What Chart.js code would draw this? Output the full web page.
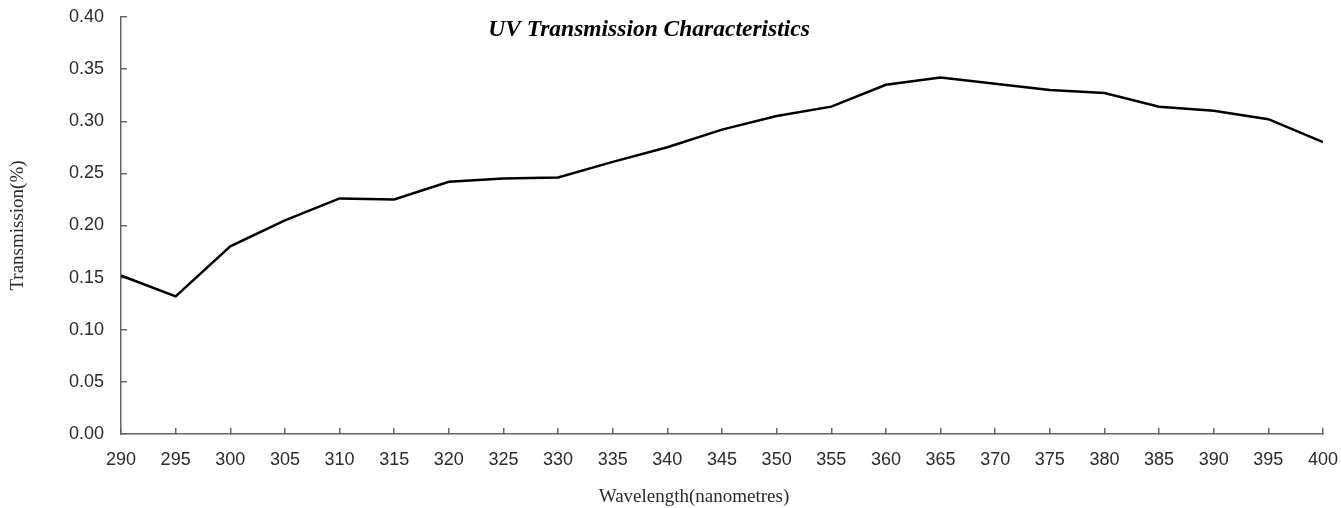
<!DOCTYPE html>
<html>
<head>
<meta charset="utf-8">
<script src="https://cdn.jsdelivr.net/npm/chart.js@4.4.1/dist/chart.umd.min.js"></script>
<style>
  html, body { margin: 0; padding: 0; background: #fff; }
  #wrap { width: 1341px; height: 508px; position: relative; }
</style>
</head>
<body>
<div id="wrap"><canvas id="uvChart"></canvas></div>
<script>
// wavelength (nm) and transmission values
const wavelengths = [290, 295, 300, 305, 310, 315, 320, 325, 330, 335, 340, 345,
                     350, 355, 360, 365, 370, 375, 380, 385, 390, 395, 400];
const transmission = [0.152, 0.132, 0.180, 0.205, 0.226, 0.225, 0.242, 0.245, 0.246, 0.261, 0.275, 0.292,
                      0.305, 0.314, 0.335, 0.342, 0.336, 0.330, 0.327, 0.314, 0.310, 0.302, 0.280];
const yTicks = [0, 0.05, 0.10, 0.15, 0.20, 0.25, 0.30, 0.35, 0.40];

const chartTitle = "UV Transmission Characteristics";
const xTitle = "Wavelength(nanometres)";
const yTitle = "Transmission(%)";

const axisColor = "#666";
const labelColor = "#2a2a2a";

// draws the title inside the plot and the x axis title
const textPlugin = {
    id: "texts",
    afterDraw(chart) {
        const ctx = chart.ctx;
        ctx.save();
        ctx.fillStyle = "#000";
        ctx.textAlign = "center";
        ctx.textBaseline = "middle";
        ctx.font = "italic bold 23.5px 'Liberation Serif', 'Times New Roman', serif";
        ctx.fillText(chartTitle, 649, 30);
        ctx.fillStyle = labelColor;
        ctx.font = "19px 'Liberation Serif', 'Times New Roman', serif";
        ctx.fillText(xTitle, 694, 497);
        ctx.restore();
    }
};

const ctx = document.getElementById("uvChart").getContext("2d");
new Chart(ctx, {
    type: "line",
    data: {
        datasets: [{
            label: yTitle,
            data: wavelengths.map((w, i) => ({ x: w, y: transmission[i] })),
            borderColor: "#000",
            borderWidth: 2.5,
            pointRadius: 0,
            tension: 0,
            fill: false
        }]
    },
    options: {
        responsive: true,
        maintainAspectRatio: false,
        animation: false,
        layout: { padding: { top: 17, right: 18, bottom: 0, left: 0 } },
        plugins: {
            legend: { display: false },
            tooltip: { enabled: false }
        },
        scales: {
            x: {
                type: "linear",
                min: 290,
                max: 400,
                afterFit: s => {
                    s.height = 74;
                    s.paddingLeft = 0;
                    s.paddingRight = 0;
                },
                ticks: {
                    stepSize: 5,
                    padding: 21,
                    color: labelColor,
                    font: { family: "'Liberation Sans', Arial, sans-serif", size: 18 },
                    maxRotation: 0,
                    autoSkip: false
                },
                grid: {
                    drawOnChartArea: false,
                    drawTicks: true,
                    tickLength: -6,
                    color: axisColor,
                    lineWidth: 1.5
                },
                border: { color: axisColor, width: 1.5 }
            },
            y: {
                min: 0,
                max: 0.4,
                afterFit: s => {
                    s.width = 121;
                    s.paddingTop = 0;
                    s.paddingBottom = 0;
                },
                afterBuildTicks: s => { s.ticks = yTicks.map(v => ({ value: v })); },
                ticks: {
                    padding: 23,
                    color: labelColor,
                    font: { family: "'Liberation Sans', Arial, sans-serif", size: 18 },
                    callback: v => Number(v).toFixed(2)
                },
                grid: {
                    drawOnChartArea: false,
                    drawTicks: true,
                    tickLength: -6,
                    color: axisColor,
                    lineWidth: 1.5
                },
                border: { color: axisColor, width: 1.5 },
                title: {
                    display: true,
                    text: yTitle,
                    color: labelColor,
                    font: { family: "'Liberation Serif', 'Times New Roman', serif", size: 19 },
                    padding: { top: 7, bottom: 0 }
                }
            }
        }
    },
    plugins: [textPlugin]
});
</script>
</body>
</html>
